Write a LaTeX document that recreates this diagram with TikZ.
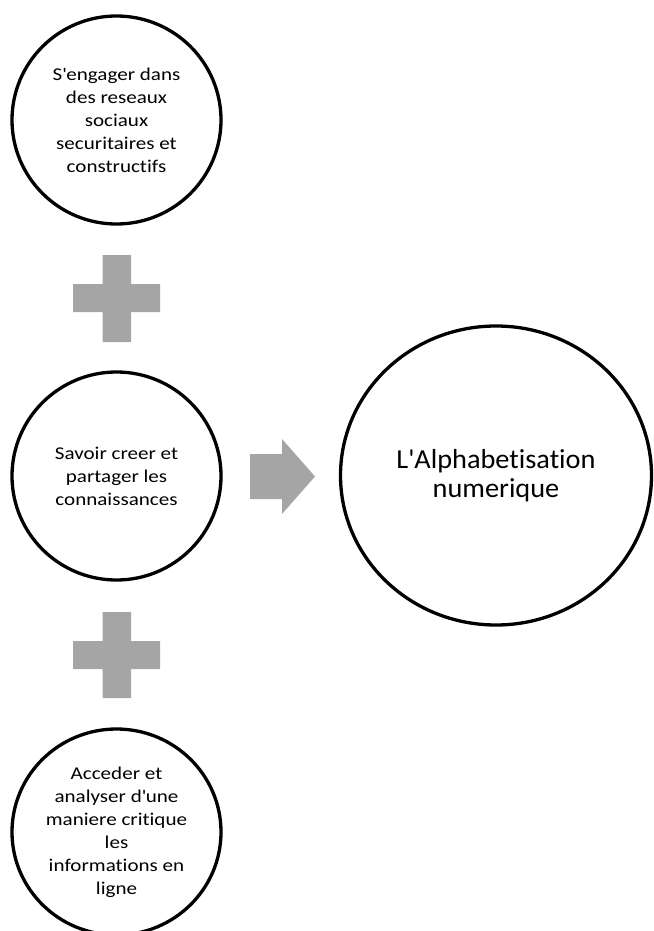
\documentclass[tikz,border=0pt]{standalone}
\usepackage{fontspec}
\setmainfont{Carlito}
\newfontfamily\smallwide[FakeStretch=1.17, Ligatures={NoCommon,NoContextual,NoRequired}]{Carlito}
\newfontfamily\bigwide[FakeStretch=1.03, Ligatures={NoCommon,NoContextual,NoRequired}]{Carlito}
\usetikzlibrary{shapes.geometric}
\definecolor{shapegray}{HTML}{A5A5A5}
\newcommand{\q}{\textquotesingle}
\tikzset{
  bubble/.style={draw=black, line width=3.3pt, ellipse, inner sep=0pt, align=center,
    font=\smallwide\fontsize{18}{23}\selectfont},
  bigbubble/.style={bubble, font=\bigwide\fontsize{27.5}{29.5}\selectfont},
  graysym/.style={fill=shapegray, draw=none}
}
\begin{document}
\begin{tikzpicture}[x=1pt,y=-1pt]
\useasboundingbox (0,0) rectangle (653,931);
% circles
\node[bubble, minimum width=209pt, minimum height=208pt] (top) at (116.5,120)
  {S\q engager dans\\des reseaux\\sociaux\\securitaires et\\constructifs};
\node[bubble, minimum width=209pt, minimum height=208pt] (mid) at (116.5,476)
  {Savoir creer et\\partager les\\connaissances};
\node[bubble, minimum width=209pt, minimum height=206pt] (bot) at (116.5,832)
  {Acceder et\\analyser d\q une\\maniere critique\\les\\informations en\\ligne};
\node[bigbubble, minimum width=311pt, minimum height=299pt] (res) at (496,475.5)
  {L\q Alphabetisation\\numerique};
% plus signs
\fill[graysym] (102.5,255) -- (131,255) -- (131,284) -- (160,284) -- (160,312)
  -- (131,312) -- (131,342) -- (102.5,342) -- (102.5,312) -- (73,312) -- (73,284)
  -- (102.5,284) -- cycle;
\fill[graysym] (102.5,612) -- (131,612) -- (131,641) -- (160,641) -- (160,669)
  -- (131,669) -- (131,698) -- (102.5,698) -- (102.5,669) -- (73,669) -- (73,641)
  -- (102.5,641) -- cycle;
% arrow
\fill[graysym] (250,454) -- (282,454) -- (282,439) -- (315,476.5) -- (282,514)
  -- (282,499) -- (250,499) -- cycle;
\end{tikzpicture}
\end{document}
